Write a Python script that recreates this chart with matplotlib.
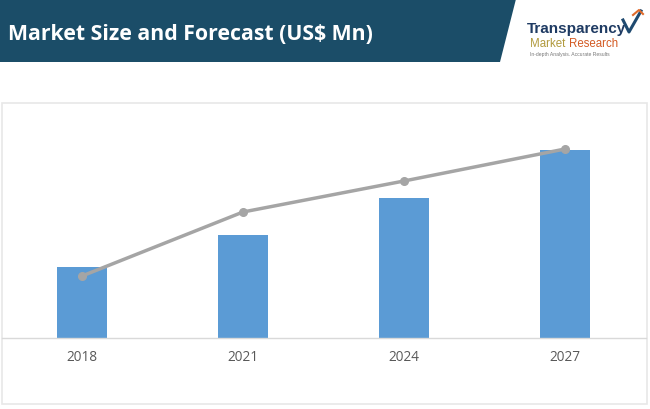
import matplotlib
matplotlib.use("Agg")
import matplotlib.pyplot as plt
from matplotlib.patches import Polygon, Rectangle
from matplotlib.lines import Line2D

categories = ["2018", "2021", "2024", "2027"]
bar_values = [71, 103, 140, 188]
line_values = [62, 126, 157, 189]

W, H = 650, 410
fig = plt.figure(figsize=(6.5, 4.1), dpi=100)
fig.patch.set_facecolor("white")

# overlay axes in pixel coordinates (y down)
ov = fig.add_axes([0, 0, 1, 1])
ov.set_xlim(0, W)
ov.set_ylim(H, 0)
ov.axis("off")

# banner
ov.add_patch(Polygon([[0, 0], [516, 0], [500, 63], [0, 63]], closed=True,
                     facecolor="#1b4d68", edgecolor="none", zorder=1))
ov.text(8, 35, "Market Size and Forecast (US$ Mn)", color="white",
        fontsize=15.3, fontweight="bold", family="Open Sans", va="center", ha="left", zorder=2)

# logo
ov.text(527, 33, "Transparency", color="#1f3b63", fontsize=11, family="Liberation Sans",
        fontweight="bold", va="baseline", ha="left", zorder=2)
ov.text(530, 47, "Market", color="#b19a3d", fontsize=8.3, family="Liberation Sans",
        va="baseline", ha="left", zorder=2)
ov.text(569, 47, "Research", color="#d35a23", fontsize=8.3, family="Liberation Sans",
        va="baseline", ha="left", zorder=2)
ov.text(530, 56, "In-depth Analysis. Accurate Results", color="#777777", fontsize=3.6,
        family="Liberation Sans", va="baseline", ha="left", zorder=2)
ov.add_line(Line2D([623, 629, 641], [21, 33, 12], color="#1f4a70", lw=2.2, zorder=2))
ov.add_line(Line2D([633, 639, 643], [16, 11, 15], color="#e06a2a", lw=1.5, zorder=2))

# chart border
ov.add_patch(Rectangle((1.5, 104), 645, 301, facecolor="none",
                       edgecolor="#e8e8e8", lw=1.2, zorder=1))

# chart axes: x from 1.5 to 645.5 px, y baseline 339 px
left = 1.5 / W
right = 645.5 / W
bottom = (H - 339) / H
top = (H - 114) / H
ax = fig.add_axes([left, bottom, right - left, top - bottom])
ax.set_facecolor("none")
x = list(range(len(categories)))
ax.bar(x, bar_values, width=0.31, color="#5b9bd5", zorder=2)
ax.plot(x, line_values, color="#a5a5a5", lw=2.5, marker="o", markersize=5.5,
        markerfacecolor="#a5a5a5", markeredgecolor="#a5a5a5", zorder=3)
ax.set_xlim(-0.5, 3.5)
ax.set_ylim(0, 225)
for s in ["top", "right", "left"]:
    ax.spines[s].set_visible(False)
ax.spines["bottom"].set_color("#d9d9d9")
ax.spines["bottom"].set_linewidth(1.0)
ax.set_yticks([])
ax.set_xticks(x)
ax.set_xticklabels(categories, color="#595959", fontsize=9.8, family="Open Sans")
ax.tick_params(axis="x", length=0, pad=8)

fig.savefig("out.png", dpi=100, facecolor="white")
